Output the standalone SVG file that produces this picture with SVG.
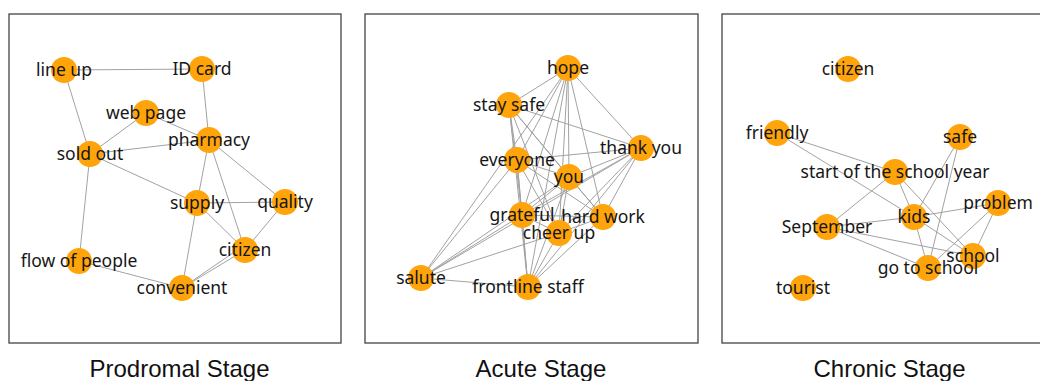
<svg xmlns="http://www.w3.org/2000/svg" width="1040" height="381" viewBox="0 0 1040 381">
<style>
.frame{fill:#ffffff;stroke:#444444;stroke-width:1.3}
.edges line{stroke:#a2a2a2;stroke-width:1}
.node circle{fill:#ffa40a;stroke:none}
.node text{font-family:"Noto Sans","Open Sans",sans-serif;font-size:17.5px;fill:#161616;text-anchor:middle}
.title{font-family:"Liberation Sans",Arial,sans-serif;font-size:24px;fill:#111111;text-anchor:middle}
</style>
<rect width="1040" height="381" fill="#ffffff"/>
<rect class="frame" x="9" y="14" width="332" height="329"/>
<rect class="frame" x="365" y="14" width="333" height="329"/>
<rect class="frame" x="722" y="14" width="333" height="329"/>

<g id="connectors">
<g class="edges" id="edges-prodromal">
<line x1="64" y1="70" x2="202" y2="69"/>
<line x1="64" y1="70" x2="90" y2="154"/>
<line x1="202" y1="69" x2="209" y2="140"/>
<line x1="146" y1="113" x2="90" y2="154"/>
<line x1="146" y1="113" x2="209" y2="140"/>
<line x1="90" y1="154" x2="209" y2="140"/>
<line x1="90" y1="154" x2="197" y2="203"/>
<line x1="90" y1="154" x2="79" y2="261"/>
<line x1="209" y1="140" x2="197" y2="203"/>
<line x1="209" y1="140" x2="245" y2="250"/>
<line x1="209" y1="140" x2="285" y2="202"/>
<line x1="197" y1="203" x2="285" y2="202"/>
<line x1="197" y1="203" x2="245" y2="250"/>
<line x1="197" y1="203" x2="182" y2="288"/>
<line x1="285" y1="202" x2="245" y2="250"/>
<line x1="182" y1="288" x2="245" y2="250"/>
<line x1="182" y1="288" x2="243" y2="246"/>
<line x1="79" y1="261" x2="182" y2="288"/>
</g>
<g class="edges" id="edges-acute">
<line x1="568" y1="68" x2="509" y2="105"/>
<line x1="568" y1="68" x2="641" y2="148"/>
<line x1="568" y1="68" x2="517" y2="160"/>
<line x1="568" y1="68" x2="569" y2="177"/>
<line x1="568" y1="68" x2="522" y2="215"/>
<line x1="568" y1="68" x2="603" y2="217"/>
<line x1="568" y1="68" x2="559" y2="233"/>
<line x1="568" y1="68" x2="528" y2="287"/>
<line x1="568" y1="68" x2="421" y2="278"/>
<line x1="509" y1="105" x2="641" y2="148"/>
<line x1="509" y1="105" x2="517" y2="160"/>
<line x1="509" y1="105" x2="522" y2="215"/>
<line x1="509" y1="105" x2="569" y2="177"/>
<line x1="509" y1="105" x2="603" y2="217"/>
<line x1="509" y1="105" x2="559" y2="233"/>
<line x1="509" y1="105" x2="528" y2="287"/>
<line x1="641" y1="148" x2="517" y2="160"/>
<line x1="641" y1="148" x2="569" y2="177"/>
<line x1="641" y1="148" x2="522" y2="215"/>
<line x1="641" y1="148" x2="559" y2="233"/>
<line x1="641" y1="148" x2="603" y2="217"/>
<line x1="641" y1="148" x2="528" y2="287"/>
<line x1="641" y1="148" x2="421" y2="278"/>
<line x1="517" y1="160" x2="569" y2="177"/>
<line x1="517" y1="160" x2="522" y2="215"/>
<line x1="517" y1="160" x2="603" y2="217"/>
<line x1="517" y1="160" x2="559" y2="233"/>
<line x1="517" y1="160" x2="528" y2="287"/>
<line x1="517" y1="160" x2="421" y2="278"/>
<line x1="569" y1="177" x2="522" y2="215"/>
<line x1="569" y1="177" x2="603" y2="217"/>
<line x1="569" y1="177" x2="559" y2="233"/>
<line x1="569" y1="177" x2="528" y2="287"/>
<line x1="569" y1="177" x2="421" y2="278"/>
<line x1="522" y1="215" x2="603" y2="217"/>
<line x1="522" y1="215" x2="559" y2="233"/>
<line x1="522" y1="215" x2="528" y2="287"/>
<line x1="522" y1="215" x2="421" y2="278"/>
<line x1="603" y1="217" x2="559" y2="233"/>
<line x1="603" y1="217" x2="528" y2="287"/>
<line x1="559" y1="233" x2="528" y2="287"/>
<line x1="559" y1="233" x2="421" y2="278"/>
<line x1="421" y1="278" x2="528" y2="287"/>
</g>
<g class="edges" id="edges-chronic">
<line x1="777" y1="133" x2="895" y2="172"/>
<line x1="777" y1="133" x2="914" y2="217"/>
<line x1="960" y1="137" x2="914" y2="217"/>
<line x1="960" y1="137" x2="928" y2="268"/>
<line x1="895" y1="172" x2="827" y2="227"/>
<line x1="895" y1="172" x2="914" y2="217"/>
<line x1="895" y1="172" x2="973" y2="256"/>
<line x1="914" y1="217" x2="998" y2="203"/>
<line x1="827" y1="227" x2="914" y2="217"/>
<line x1="827" y1="227" x2="973" y2="256"/>
<line x1="827" y1="227" x2="928" y2="268"/>
<line x1="914" y1="217" x2="928" y2="268"/>
<line x1="914" y1="217" x2="973" y2="256"/>
<line x1="998" y1="203" x2="928" y2="268"/>
<line x1="998" y1="203" x2="973" y2="256"/>
</g>
</g>

<g id="p1-line-up" class="node"><circle cx="64" cy="70" r="13"/><text x="64" y="76">line up</text></g>
<g id="p1-id-card" class="node"><circle cx="202" cy="69" r="13"/><text x="202" y="75">ID card</text></g>
<g id="p1-web-page" class="node"><circle cx="146" cy="113" r="13"/><text x="146" y="119">web page</text></g>
<g id="p1-pharmacy" class="node"><circle cx="209" cy="140" r="13"/><text x="209" y="146">pharmacy</text></g>
<g id="p1-sold-out" class="node"><circle cx="90" cy="154" r="13"/><text x="90" y="160">sold out</text></g>
<g id="p1-supply" class="node"><circle cx="197" cy="203" r="13"/><text x="197" y="209">supply</text></g>
<g id="p1-quality" class="node"><circle cx="285" cy="202" r="13"/><text x="285" y="208">quality</text></g>
<g id="p1-citizen" class="node"><circle cx="245" cy="250" r="13"/><text x="245" y="256">citizen</text></g>
<g id="p1-flow-of-people" class="node"><circle cx="79" cy="261" r="13"/><text x="79" y="267">flow of people</text></g>
<g id="p1-convenient" class="node"><circle cx="182" cy="288" r="13"/><text x="182" y="294">convenient</text></g>

<g id="p2-hope" class="node"><circle cx="568" cy="68" r="13"/><text x="568" y="74">hope</text></g>
<g id="p2-stay-safe" class="node"><circle cx="509" cy="105" r="13"/><text x="509" y="111">stay safe</text></g>
<g id="p2-thank-you" class="node"><circle cx="641" cy="148" r="13"/><text x="641" y="154">thank you</text></g>
<g id="p2-everyone" class="node"><circle cx="517" cy="160" r="13"/><text x="517" y="166">everyone</text></g>
<g id="p2-you" class="node"><circle cx="569" cy="177" r="13"/><text x="569" y="183">you</text></g>
<g id="p2-grateful" class="node"><circle cx="522" cy="215" r="13"/><text x="522" y="221">grateful</text></g>
<g id="p2-hard-work" class="node"><circle cx="603" cy="217" r="13"/><text x="603" y="223">hard work</text></g>
<g id="p2-cheer-up" class="node"><circle cx="559" cy="233" r="13"/><text x="559" y="239">cheer up</text></g>
<g id="p2-salute" class="node"><circle cx="421" cy="278" r="13"/><text x="421" y="284">salute</text></g>
<g id="p2-frontline-staff" class="node"><circle cx="528" cy="287" r="13"/><text x="528" y="293">frontline staff</text></g>

<g id="p3-citizen" class="node"><circle cx="848" cy="69" r="13"/><text x="848" y="75">citizen</text></g>
<g id="p3-friendly" class="node"><circle cx="777" cy="133" r="13"/><text x="777" y="139">friendly</text></g>
<g id="p3-safe" class="node"><circle cx="960" cy="137" r="13"/><text x="960" y="143">safe</text></g>
<g id="p3-start-of-the-school-year" class="node"><circle cx="895" cy="172" r="13"/><text x="895" y="178">start of the school year</text></g>
<g id="p3-problem" class="node"><circle cx="998" cy="203" r="13"/><text x="998" y="209">problem</text></g>
<g id="p3-kids" class="node"><circle cx="914" cy="217" r="13"/><text x="914" y="223">kids</text></g>
<g id="p3-september" class="node"><circle cx="827" cy="227" r="13"/><text x="827" y="233">September</text></g>
<g id="p3-school" class="node"><circle cx="973" cy="256" r="13"/><text x="973" y="262">school</text></g>
<g id="p3-go-to-school" class="node"><circle cx="928" cy="268" r="13"/><text x="928" y="274">go to school</text></g>
<g id="p3-tourist" class="node"><circle cx="803" cy="288" r="13"/><text x="803" y="294">tourist</text></g>

<g id="titles">
<text class="title" x="179.5" y="377">Prodromal Stage</text>
<text class="title" x="541" y="377">Acute Stage</text>
<text class="title" x="889.5" y="377">Chronic Stage</text>
</g>
</svg>
